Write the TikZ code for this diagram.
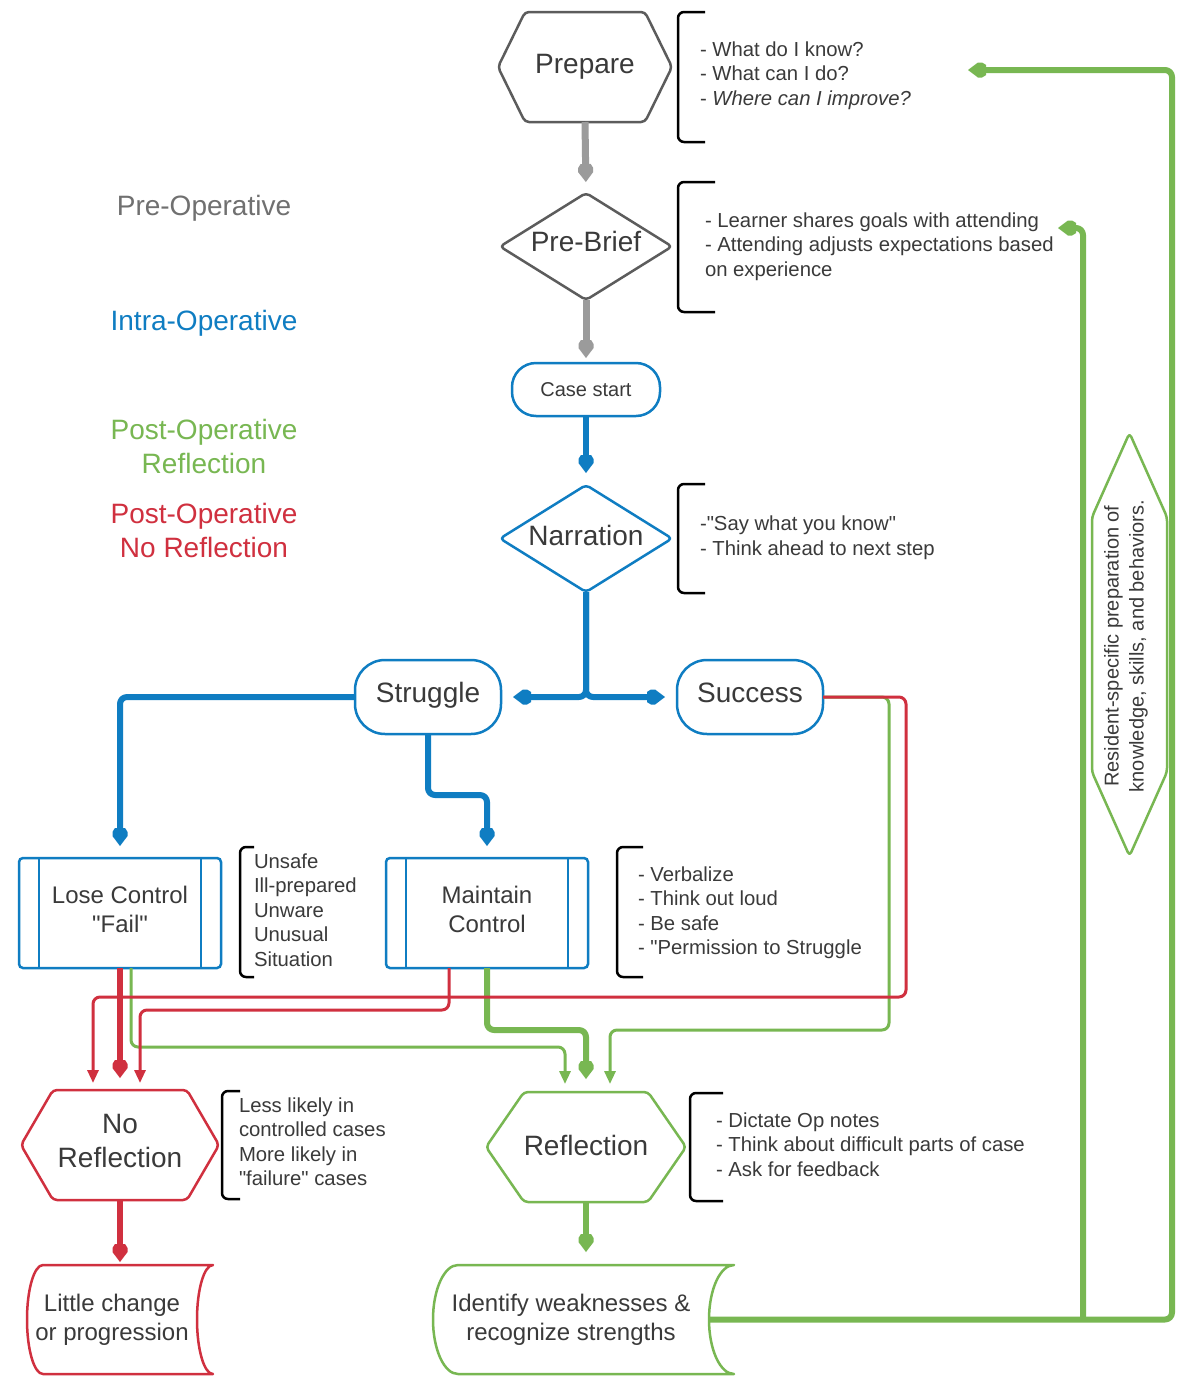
\documentclass[tikz,border=0pt]{standalone}
\usepackage{fontspec}
\setmainfont{Liberation Sans}[Ligatures=TeXOff]
\usetikzlibrary{arrows.meta}

\definecolor{ink}{HTML}{3A3A3A}
\definecolor{graystroke}{HTML}{5C5C5C}
\definecolor{grayconn}{HTML}{9B9B9B}
\definecolor{graylabel}{HTML}{707070}
\definecolor{flowblue}{HTML}{0F7DC2}
\definecolor{flowgreen}{HTML}{78B752}
\definecolor{flowred}{HTML}{D0303F}

% invisible depth that lifts a centred label
\newcommand\sinkline[1]{\rule[-#1]{0pt}{0pt}}

% blunt pentagon tip used on the heavy connectors
\pgfdeclarearrow{
  name=Pent,
  parameters={\the\pgfarrowlength,\the\pgfarrowwidth},
  setup code={
    \pgfarrowssettipend{0pt}
    \pgfarrowssetbackend{-\pgfarrowlength}
    \pgfarrowssetlineend{-.6\pgfarrowlength}
    \pgfarrowssavethe\pgfarrowlength
    \pgfarrowssavethe\pgfarrowwidth
  },
  drawing code={
    \pgfpathmoveto{\pgfqpoint{0pt}{0pt}}
    \pgfpathlineto{\pgfqpoint{-.55\pgfarrowlength}{.5\pgfarrowwidth}}
    \pgfpathlineto{\pgfqpoint{-.78\pgfarrowlength}{.5\pgfarrowwidth}}
    \pgfpathlineto{\pgfqpoint{-\pgfarrowlength}{.34\pgfarrowwidth}}
    \pgfpathlineto{\pgfqpoint{-\pgfarrowlength}{-.34\pgfarrowwidth}}
    \pgfpathlineto{\pgfqpoint{-.78\pgfarrowlength}{-.5\pgfarrowwidth}}
    \pgfpathlineto{\pgfqpoint{-.55\pgfarrowlength}{-.5\pgfarrowwidth}}
    \pgfpathclose
    \pgfusepathqfill
  },
  defaults={length=18pt, width=15pt}
}

\begin{document}
\begin{tikzpicture}[x=1pt,y=-1pt,
  every node/.style={text=ink, inner sep=0pt, outer sep=0pt},
  bigtext/.style={font=\fontsize{28}{34}\selectfont, align=center},
  midtext/.style={font=\fontsize{24}{29}\selectfont, align=center},
  notetext/.style={font=\fontsize{20.3}{24.5}\selectfont, align=left, anchor=west},
  outline/.style={line width=2.5pt, line join=round, rounded corners=4pt},
  bracket/.style={draw=black, line width=2.5pt, rounded corners=6pt},
  conn/.style={rounded corners=7pt, line join=round},
  fattip/.style={-{Pent[length=18pt,width=15pt]}},
  thintip/.style={-{Triangle[length=13pt,width=11pt]}},
  grayfat/.style={conn, draw=grayconn, line width=7pt, fattip},
  bluefat/.style={conn, draw=flowblue, line width=6pt, fattip},
  redfat/.style={conn, draw=flowred, line width=6pt, fattip},
  greenfat/.style={conn, draw=flowgreen, line width=6pt, fattip},
  redthin/.style={conn, draw=flowred, line width=3pt, thintip},
  greenthin/.style={conn, draw=flowgreen, line width=3pt, thintip},
]
\fill[white] (0,0) rectangle (1176,1376);
\useasboundingbox (0,0) rectangle (1176,1376);

% ---------- phase legend ----------
\node[bigtext, text=graylabel] (phasepre) at (204,208.5) {Pre-Operative};
\node[bigtext, text=flowblue] (phaseintra) at (204,323.5) {Intra-Operative};
\node[bigtext, text=flowgreen] (phasepost) at (204,446) {Post-Operative\\Reflection};
\node[bigtext, text=flowred] (phasenone) at (204,530) {Post-Operative\\No Reflection};

% ---------- main flow shapes ----------
\node[bigtext, minimum width=174pt, minimum height=110pt] (prep) at (585,67) {Prepare};
\draw[outline, draw=graystroke] (prep.west) -- ([xshift=27pt]prep.north west)
  -- ([xshift=-27pt]prep.north east) -- (prep.east) -- ([xshift=-27pt]prep.south east)
  -- ([xshift=27pt]prep.south west) -- cycle;

\node[bigtext, minimum width=172pt, minimum height=107pt] (brief) at (586,246.5) {Pre-Brief\sinkline{10pt}};
\draw[outline, draw=graystroke] (brief.west) -- (brief.north) -- (brief.east) -- (brief.south) -- cycle;

\node[font=\fontsize{20}{24}\selectfont, draw=flowblue, line width=2.5pt, rounded corners=24pt,
      minimum width=148pt, minimum height=53pt] (start) at (586,389.5) {Case start};

\node[bigtext, minimum width=172pt, minimum height=107pt] (narr) at (586,538.5) {Narration\sinkline{6pt}};
\draw[outline, draw=flowblue] (narr.west) -- (narr.north) -- (narr.east) -- (narr.south) -- cycle;

\node[bigtext, draw=flowblue, line width=2.5pt, rounded corners=30pt,
      minimum width=146pt, minimum height=74pt] (strug) at (428,697) {Struggle\sinkline{10pt}};
\node[bigtext, draw=flowblue, line width=2.5pt, rounded corners=30pt,
      minimum width=146pt, minimum height=74pt] (succ) at (750,697) {Success\sinkline{8pt}};

\node[midtext, draw=flowblue, line width=2.5pt, rounded corners=4pt,
      minimum width=202pt, minimum height=110pt] (lose) at (120,913) {Lose Control\\"Fail"\sinkline{8pt}};
\draw[flowblue, line width=2.5pt] ([xshift=20pt]lose.north west) -- ([xshift=20pt]lose.south west);
\draw[flowblue, line width=2.5pt] ([xshift=-20pt]lose.north east) -- ([xshift=-20pt]lose.south east);

\node[midtext, draw=flowblue, line width=2.5pt, rounded corners=4pt,
      minimum width=202pt, minimum height=110pt] (maint) at (487,913) {Maintain\\Control\sinkline{8pt}};
\draw[flowblue, line width=2.5pt] ([xshift=20pt]maint.north west) -- ([xshift=20pt]maint.south west);
\draw[flowblue, line width=2.5pt] ([xshift=-20pt]maint.north east) -- ([xshift=-20pt]maint.south east);

\node[bigtext, minimum width=198pt, minimum height=110pt] (norefl) at (120,1145) {No\\Reflection\sinkline{8pt}};
\draw[outline, draw=flowred] (norefl.west) -- ([xshift=32pt]norefl.north west)
  -- ([xshift=-32pt]norefl.north east) -- (norefl.east) -- ([xshift=-32pt]norefl.south east)
  -- ([xshift=32pt]norefl.south west) -- cycle;

\node[bigtext, minimum width=200pt, minimum height=110pt] (refl) at (586,1147) {Reflection\sinkline{4pt}};
\draw[outline, draw=flowgreen] (refl.west) -- ([xshift=38pt]refl.north west)
  -- ([xshift=-38pt]refl.north east) -- (refl.east) -- ([xshift=-38pt]refl.south east)
  -- ([xshift=38pt]refl.south west) -- cycle;

% stored-data style outcome shapes
\node[midtext, minimum width=170pt, minimum height=109pt] (little) at (112,1319.5) {Little change\\or progression};
\draw[line width=2.5pt, draw=flowred, line join=round]
  ([xshift=16pt]little.north west) -- ([xshift=16pt]little.north east)
  arc[start angle=90, end angle=270, x radius=16pt, y radius=54.5pt]
  -- ([xshift=16pt]little.south west)
  arc[start angle=270, end angle=90, x radius=16pt, y radius=54.5pt] -- cycle;

\node[midtext, minimum width=276pt, minimum height=109pt] (ident) at (571,1319.5) {Identify weaknesses \&\\recognize strengths};
\draw[line width=2.5pt, draw=flowgreen, line join=round]
  ([xshift=25pt]ident.north west) -- ([xshift=25pt]ident.north east)
  arc[start angle=90, end angle=270, x radius=25pt, y radius=54.5pt]
  -- ([xshift=25pt]ident.south west)
  arc[start angle=270, end angle=90, x radius=25pt, y radius=54.5pt] -- cycle;

% ---------- brackets with notes ----------
\draw[bracket] (705,12) -- (678,12) -- (678,142) -- (705,142);
\node[notetext] (notep) at (700,75.5) {- What do I know?\\- What can I do?\\- \textit{Where can I improve?}};
\draw[bracket] (715,182) -- (678,182) -- (678,312) -- (715,312);
\node[notetext] (noteb) at (705,246.5) {- Learner shares goals with attending\\- Attending adjusts expectations based\\on experience};
\draw[bracket] (705,484) -- (678,484) -- (678,593) -- (705,593);
\node[notetext] (noten) at (700,537.5) {-"Say what you know"\\- Think ahead to next step};
\draw[bracket] (254,847) -- (240,847) -- (240,977) -- (254,977);
\node[notetext] (notel) at (254,910) {Unsafe\\Ill-prepared\\Unware\\Unusual\\Situation};
\draw[bracket] (643,847) -- (617,847) -- (617,977) -- (643,977);
\node[notetext] (notem) at (638,912.5) {- Verbalize\\- Think out loud\\- Be safe\\- "Permission to Struggle};
\draw[bracket] (240,1091) -- (222,1091) -- (222,1199) -- (240,1199);
\node[notetext] (notenr) at (239,1141.5) {Less likely in\\controlled cases\\More likely in\\"failure" cases};
\draw[bracket] (723,1093) -- (690,1093) -- (690,1201) -- (723,1201);
\node[notetext] (noter) at (716,1144.5) {- Dictate Op notes\\- Think about difficult parts of case\\- Ask for feedback};

% ---------- connectors ----------
\draw[grayfat, shorten >=11pt] (prep.south) -- (brief.north);
\draw[grayfat, shorten >=5pt] (brief.south) -- (start.north);
\draw[bluefat, shorten >=12pt] (start.south) -- (narr.north);
\draw[bluefat, shorten >=12pt] (narr.south) |- (strug.east);
\draw[bluefat, shorten >=12pt] (narr.south) |- (succ.west);
\draw[bluefat, shorten >=12pt] (strug.west) -| (lose.north);
\draw[bluefat, shorten >=12pt] (strug.south) -- ++(0,61) -| (maint.north);

\draw[greenthin, shorten >=8pt] ([xshift=11pt]lose.south) -- ++(0,79) -| ([xshift=-21pt]refl.north);
\draw[greenfat, shorten >=13pt] (maint.south) -- ++(0,62) -| (refl.north);
\draw[greenthin, shorten >=8pt] (succ.east) -| (889,1030) -| ([xshift=24pt]refl.north);

\draw[redthin, shorten >=7pt] (succ.east) -| (906,997) -| ([xshift=-27pt]norefl.north);
\draw[redthin, shorten >=7pt] ([xshift=-38pt]maint.south) -- ++(0,42) -| ([xshift=20pt]norefl.north);
\draw[redfat, shorten >=12pt] (lose.south) -- (norefl.north);
\draw[redfat, shorten >=3pt] (norefl.south) -- (norefl.south |- little.north);
\draw[greenfat, shorten >=13pt] (refl.south) -- (refl.south |- ident.north);

% feedback loop back to preparation
\coordinate (prepin) at (968,70);
\coordinate (briefin) at (1058,228);
\coordinate (split) at (1083,1319.5);
\draw[greenfat] (ident.east) -| (1172,70) -- (prepin);
\draw[greenfat] (split) |- (briefin);

\node[minimum width=75pt, minimum height=423pt] (resbox) at (1129.5,644.5) {};
\draw[outline, draw=flowgreen, fill=white] (resbox.north) -- ([yshift=-84pt]resbox.north east)
  -- ([yshift=84pt]resbox.south east) -- (resbox.south) -- ([yshift=84pt]resbox.south west)
  -- ([yshift=-84pt]resbox.north west) -- cycle;
\node[rotate=90, font=\fontsize{20}{25}\selectfont, align=center] (restext) at (1126,646)
  {Resident-specific preparation of\\knowledge, skills, and behaviors.};
\end{tikzpicture}
\end{document}
